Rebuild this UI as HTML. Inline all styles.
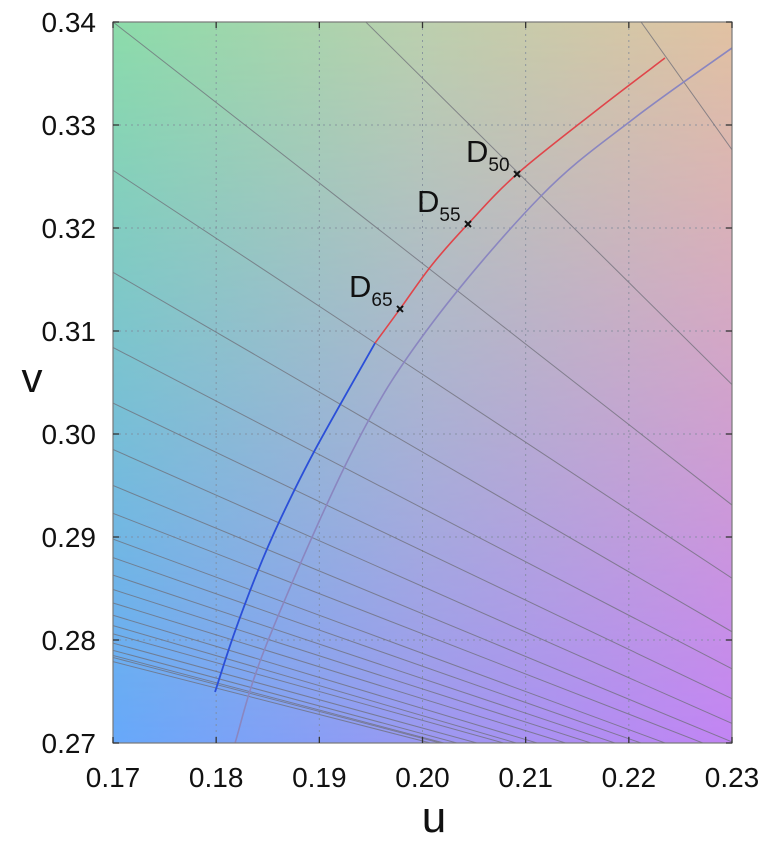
<!DOCTYPE html>
<html><head><meta charset="utf-8">
<style>
html,body{margin:0;padding:0;background:#fff;}
svg{display:block;font-family:"Liberation Sans",sans-serif;}
</style></head>
<body>
<svg id="chart" width="768" height="849" viewBox="0 0 768 849">
<defs>
<linearGradient id="gTop" x1="0" x2="1" y1="0" y2="0"><stop offset="0" stop-color="#8cdcaa"/><stop offset="0.5" stop-color="#bcd0ae"/><stop offset="1" stop-color="#e2c2a2"/></linearGradient>
<linearGradient id="gBot" x1="0" x2="1" y1="0" y2="0"><stop offset="0" stop-color="#66a8fa"/><stop offset="0.5" stop-color="#9a98f2"/><stop offset="1" stop-color="#c284f4"/></linearGradient>
<linearGradient id="gMask" x1="0" x2="0" y1="0" y2="1"><stop offset="0" stop-color="#000"/><stop offset="1" stop-color="#fff"/></linearGradient>
<mask id="m"><rect x="113" y="22" width="619" height="721" fill="url(#gMask)"/></mask>
<clipPath id="clip"><rect x="113" y="22" width="619" height="721"/></clipPath>
</defs>
<g id="plot"></g>
</svg>
<script>
const uTicks=[0.17,0.18,0.19,0.20,0.21,0.22,0.23];
const vTicks=[0.27,0.28,0.29,0.30,0.31,0.32,0.33,0.34];
const uTickLabels=["0.17","0.18","0.19","0.20","0.21","0.22","0.23"];
const vTickLabels=["0.27","0.28","0.29","0.30","0.31","0.32","0.33","0.34"];
// isotherm lines: v at u=0.17 and v at u=0.23
const isoLeftV=[0.412,0.3643,0.34,0.3256,0.3157,0.3084,0.3030,0.2985,0.2950,0.2923,0.2898,0.2880,0.2863,0.2849,0.2836,0.2824,0.2814,0.2806,0.2797,0.2790,0.2785,0.2783,0.2779];
const isoRightV=[0.3276,0.3048,0.2931,0.2860,0.2808,0.2772,0.2743,0.2719,0.2701,0.2689,0.2676,0.2669,0.2662,0.2656,0.2650,0.2643,0.2639,0.2638,0.2632,0.2628,0.2626,0.2626,0.2625];
// daylight locus
const dayBlueU=[0.17989,0.18163,0.18396,0.18619,0.18958,0.19540];
const dayBlueV=[0.27495,0.28029,0.28650,0.29165,0.29845,0.30883];
const dayRedU=[0.19540,0.19782,0.20090,0.20441,0.20916,0.21691,0.22350];
const dayRedV=[0.30883,0.31214,0.31640,0.32039,0.32524,0.33146,0.33650];
// planckian locus
const planckU=[0.18183,0.18493,0.19326,0.20044,0.21139,0.22030,0.2300];
const planckV=[0.2700,0.27971,0.29845,0.31010,0.32301,0.33049,0.33748];
// illuminants
const illumNames=["65","55","50"];
const illumU=[0.19782,0.20441,0.20916];
const illumV=[0.31214,0.32039,0.32524];

const X0=113,X1=732,Y0=743,Y1=22;
const sx=u=>X0+(u-0.17)/(0.23-0.17)*(X1-X0);
const sy=v=>Y0-(v-0.27)/(0.34-0.27)*(Y0-Y1);
const NS="http://www.w3.org/2000/svg";
const plot=document.getElementById('plot');
function mk(tag,attrs,parent){const e=document.createElementNS(NS,tag);for(const k in attrs)e.setAttribute(k,attrs[k]);(parent||plot).appendChild(e);return e;}

let bg=mk('rect',{x:X0,y:Y1,width:X1-X0,height:Y0-Y1,fill:'url(#gTop)'});


let bg2=mk('rect',{x:X0,y:Y1,width:X1-X0,height:Y0-Y1,fill:'url(#gBot)',mask:'url(#m)'});



const grid=mk('g',{stroke:'#7f8a9a','stroke-width':1,'stroke-dasharray':'2,4',opacity:0.8});


uTicks.forEach(u=>{const l=mk('line',{x1:sx(u),x2:sx(u),y1:Y1,y2:Y0},grid);});
vTicks.forEach(v=>{const l=mk('line',{x1:X0,x2:X1,y1:sy(v),y2:sy(v)},grid);});

const clipG=mk('g',{'clip-path':'url(#clip)'});


isoLeftV.forEach((vl,i)=>{
  const l=mk('line',{x1:sx(0.17),y1:sy(vl),x2:sx(0.23),y2:sy(isoRightV[i]),stroke:'#6e6e78','stroke-width':1,opacity:0.75},clipG);
  
  
});
function smooth(us,vs){
  const p=us.map((u,i)=>[sx(u),sy(vs[i])]);
  let d='M'+p[0][0]+','+p[0][1];
  for(let i=0;i<p.length-1;i++){
    const p0=p[i-1]||p[i],p1=p[i],p2=p[i+1],p3=p[i+2]||p2;
    const c1=[p1[0]+(p2[0]-p0[0])/6,p1[1]+(p2[1]-p0[1])/6];
    const c2=[p2[0]-(p3[0]-p1[0])/6,p2[1]-(p3[1]-p1[1])/6];
    d+=' C'+c1+' '+c2+' '+p2;
  }
  return d;
}
let pl=mk('path',{d:smooth(planckU,planckV),fill:'none',stroke:'#8a86c0','stroke-width':1.6},clipG);


let db=mk('path',{d:smooth(dayBlueU,dayBlueV),fill:'none',stroke:'#2b4fd8','stroke-width':1.8},clipG);


let dr=mk('path',{d:smooth(dayRedU,dayRedV),fill:'none',stroke:'#e0454a','stroke-width':1.6},clipG);



illumNames.forEach((n,i)=>{
  const x=sx(illumU[i]),y=sy(illumV[i]);
  const g=mk('g',{});
  
  
  mk('path',{d:`M${x-3},${y-3}L${x+3},${y+3}M${x-3},${y+3}L${x+3},${y-3}`,stroke:'#111','stroke-width':2},g);
  const t=mk('text',{x:x-51,y:y-12,'font-size':31,fill:'#111'},g);
  t.textContent='D';
  const s=mk('tspan',{'font-size':19,dy:9},t);
  s.textContent=n;
});

let fr=mk('rect',{x:X0,y:Y1,width:X1-X0,height:Y0-Y1,fill:'none',stroke:'#777','stroke-width':1.2});


const ticks=mk('g',{stroke:'#333','stroke-width':1.3});


uTicks.forEach(u=>{mk('line',{x1:sx(u),x2:sx(u),y1:Y0,y2:Y0-6},ticks);mk('line',{x1:sx(u),x2:sx(u),y1:Y1,y2:Y1+6},ticks);});
vTicks.forEach(v=>{mk('line',{x1:X0,x2:X0+6,y1:sy(v),y2:sy(v)},ticks);mk('line',{x1:X1,x2:X1-6,y1:sy(v),y2:sy(v)},ticks);});

uTickLabels.forEach((s,i)=>{
  const t=mk('text',{x:sx(uTicks[i]),y:787,'font-size':28,'text-anchor':'middle',fill:'#111'});
  t.textContent=s;
  
  
});
vTickLabels.forEach((s,i)=>{
  const t=mk('text',{x:96,y:sy(vTicks[i])+10,'font-size':28,'text-anchor':'end',fill:'#111'});
  t.textContent=s;
  
  
});
let xt=mk('text',{x:434,y:832,'font-size':44,'text-anchor':'middle',fill:'#111'});
xt.textContent='u';


let yt=mk('text',{x:32,y:392,'font-size':42,'text-anchor':'middle',fill:'#111'});
yt.textContent='v';


</script>
</body></html>
